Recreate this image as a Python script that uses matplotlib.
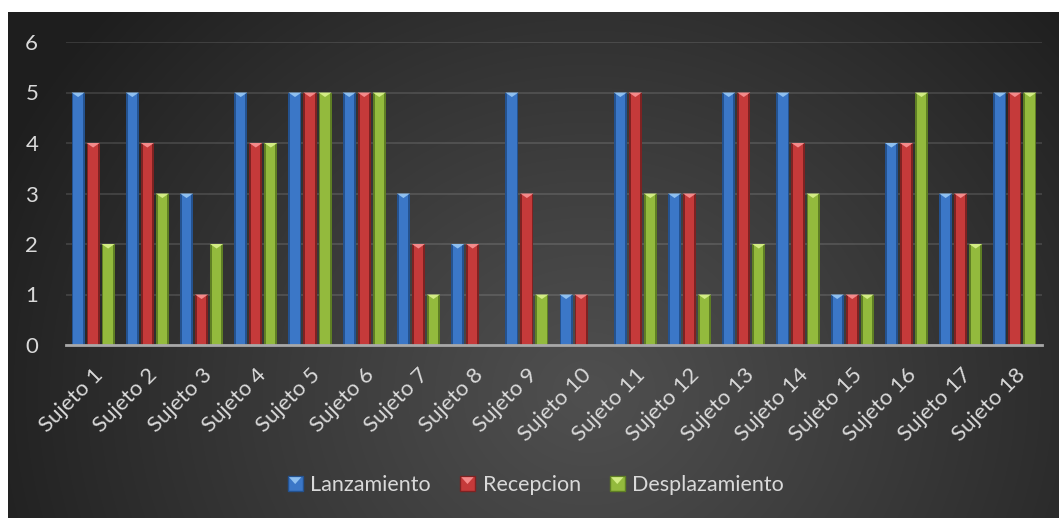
import matplotlib
matplotlib.use("Agg")
import matplotlib.pyplot as plt
from matplotlib.patches import Patch, Polygon, Rectangle
from matplotlib.legend_handler import HandlerBase
import numpy as np

# scores per subject
sujetos = ["Sujeto %d" % i for i in range(1, 19)]
lanzamiento = [5, 5, 3, 5, 5, 5, 3, 2, 5, 1, 5, 3, 5, 5, 1, 4, 3, 5]
recepcion = [4, 4, 1, 4, 5, 5, 2, 2, 3, 1, 5, 3, 5, 4, 1, 4, 3, 5]
desplazamiento = [2, 3, 2, 4, 5, 5, 1, 0, 1, 0, 3, 1, 2, 3, 1, 5, 2, 5]

series = [
    ("Lanzamiento", lanzamiento, "#3b77c7", "#24528f", "#8fc0f0"),
    ("Recepcion", recepcion, "#c53a3a", "#7e2222", "#f48a8a"),
    ("Desplazamiento", desplazamiento, "#93ba3d", "#5f7f24", "#d2ec84"),
]

plt.rcParams["font.family"] = ["Lato", "DejaVu Sans"]
txt = "#d9d9d9"


class BevelHandler(HandlerBase):
    """square legend key with a light triangle on top, like the bars"""
    def create_artists(self, legend, orig_handle, xdescent, ydescent,
                       width, height, fontsize, trans):
        col, edge, light = orig_handle.get_facecolor(), orig_handle.get_edgecolor(), orig_handle.get_label()
        s = min(width, height)
        x0, y0 = -xdescent, -ydescent
        sq = Rectangle((x0, y0), s, s, facecolor=col, edgecolor=edge, lw=1,
                       transform=trans)
        tri = Polygon([(x0 + 1, y0 + s - 1), (x0 + s - 1, y0 + s - 1), (x0 + s / 2, y0 + s * 0.45)],
                      closed=True, facecolor=light, edgecolor="none", transform=trans)
        return [sq, tri]


fig = plt.figure(figsize=(10.59, 5.18), dpi=100)

# dark radial background
bg = fig.add_axes([8 / 1059, 0, 1 - 8 / 1059, (518 - 12) / 518])
bg.set_axis_off()
W, H = 1051, 506
yy, xx = np.mgrid[0:H, 0:W]
r = np.hypot((xx - 580) / 1.0, (yy - 380) / 0.9)
t = np.clip(r / 640.0, 0, 1)
c = 0.31 - (0.31 - 0.12) * t ** 1.1
bg.imshow(np.dstack([c, c, c]), aspect="auto", extent=(0, W, H, 0))

ax = fig.add_axes([66 / 1059, (518 - 345) / 518, 976 / 1059, 303 / 518])
ax.set_facecolor("none")

x = np.arange(len(sujetos))
w = 0.24
step = 0.277
tri_h = 0.09
for k, (name, vals, col, edge, light) in enumerate(series):
    pos = x + (k - 1) * step
    ax.bar(pos, vals, width=w, color=edge, zorder=3)
    ax.bar(pos, vals, width=w * 0.72, color=col, zorder=4)
    for px, v in zip(pos, vals):
        if v > 0:
            ax.add_patch(Polygon([(px - w / 2, v), (px + w / 2, v), (px, v - tri_h)],
                                 closed=True, facecolor=light, edgecolor="none", zorder=5))

ax.set_xlim(-0.5, len(sujetos) - 0.5)
ax.set_ylim(0, 6)
ax.set_yticks(range(7))
ax.yaxis.grid(True, color="white", alpha=0.13, lw=1.3)
ax.set_axisbelow(True)
for s in ["top", "right", "left"]:
    ax.spines[s].set_visible(False)
ax.spines["bottom"].set_color("#a8a8a8")
ax.spines["bottom"].set_linewidth(2)
ax.spines["bottom"].set_zorder(6)
ax.tick_params(length=0)
ax.tick_params(axis="y", pad=20, labelsize=16, labelcolor=txt)
ax.set_xticks(x)
ax.set_xticklabels(sujetos, rotation=45, ha="right", rotation_mode="anchor",
                   fontsize=16, color=txt)
ax.tick_params(axis="x", pad=14)

handles = [Patch(facecolor=col, edgecolor=edge, label=light)
           for name, vals, col, edge, light in series]
fig.legend(handles, [s[0] for s in series], loc="center",
           bbox_to_anchor=(0.506, 0.064), ncol=3, frameon=False,
           fontsize=15.5, labelcolor=txt, handlelength=0.7, handleheight=0.7,
           handletextpad=0.35, columnspacing=1.35,
           handler_map={Patch: BevelHandler()})

fig.savefig("out.png", dpi=100, facecolor="white")
